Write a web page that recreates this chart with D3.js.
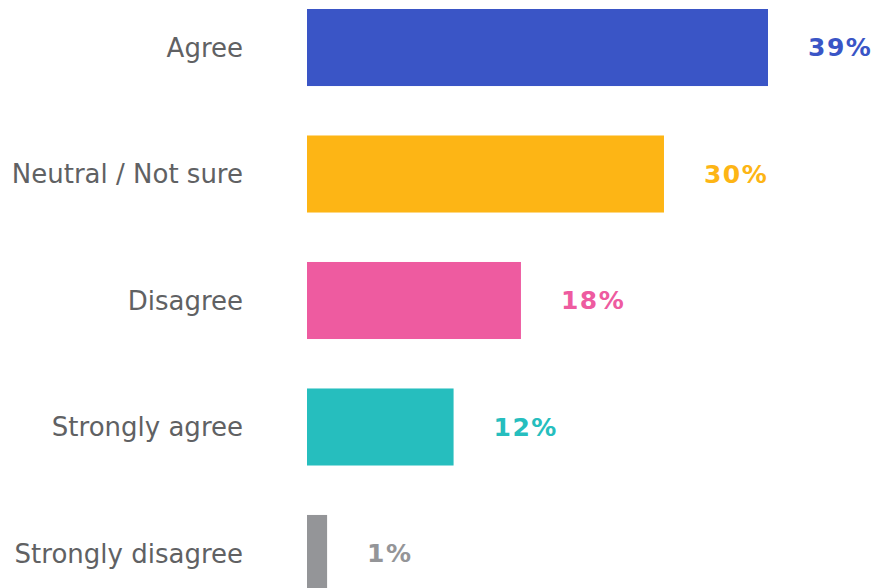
<!DOCTYPE html>
<html>
<head>
<meta charset="utf-8">
<script src="https://cdn.jsdelivr.net/npm/d3@7"></script>
<style>
  html, body { margin: 0; padding: 0; background: #fff; }
  svg { display: block; }
</style>
</head>
<body>
<svg id="chart"></svg>
<script>
const categories = ["Agree", "Neutral / Not sure", "Disagree", "Strongly agree", "Strongly disagree"];
const values = [39, 30.2, 18.1, 12.4, 1.7];
const valueLabels = ["39%", "30%", "18%", "12%", "1%"];
const colors = ["#3a55c6", "#fdb515", "#ee5ba0", "#26bebe", "#949598"];

const width = 875;
const height = 588;

const svg = d3.select("#chart")
  .attr("width", width)
  .attr("height", height);

const xScale = d3.scaleLinear()
  .domain([0, 39])
  .range([307, 768]);

const yScale = d3.scaleBand()
  .domain(categories)
  .range([9, 592])
  .paddingInner(0.391)
  .paddingOuter(0);

const dataset = categories.map((c, i) => ({
  category: c,
  value: values[i],
  label: valueLabels[i],
  color: colors[i]
}));

// bars
svg.selectAll(".bar")
  .data(dataset)
  .enter()
  .append("rect")
  .attr("class", "bar")
  .attr("x", xScale(0))
  .attr("y", d => yScale(d.category))
  .attr("width", d => xScale(d.value) - xScale(0))
  .attr("height", yScale.bandwidth())
  .style("fill", d => d.color);

// category labels on the left
const yAxis = d3.axisLeft(yScale).tickSize(0).tickPadding(64);

svg.append("g")
  .attr("transform", `translate(${xScale(0)},0)`)
  .call(yAxis)
  .call(g => g.select(".domain").remove())
  .selectAll("text")
  .attr("dy", "0.35em")
  .style("font-family", "'DejaVu Sans', sans-serif")
  .style("font-size", "26px")
  .style("fill", "#606163");

// value labels
svg.selectAll(".value")
  .data(dataset)
  .enter()
  .append("text")
  .attr("class", "value")
  .attr("x", d => xScale(d.value) + 40)
  .attr("y", d => yScale(d.category) + yScale.bandwidth() / 2)
  .attr("dy", "0.35em")
  .style("font-family", "'DejaVu Sans', sans-serif")
  .style("font-weight", "bold")
  .style("font-size", "25px")
  .style("letter-spacing", "1.5px")
  .style("fill", d => d.color)
  .text(d => d.label);
</script>
</body>
</html>
